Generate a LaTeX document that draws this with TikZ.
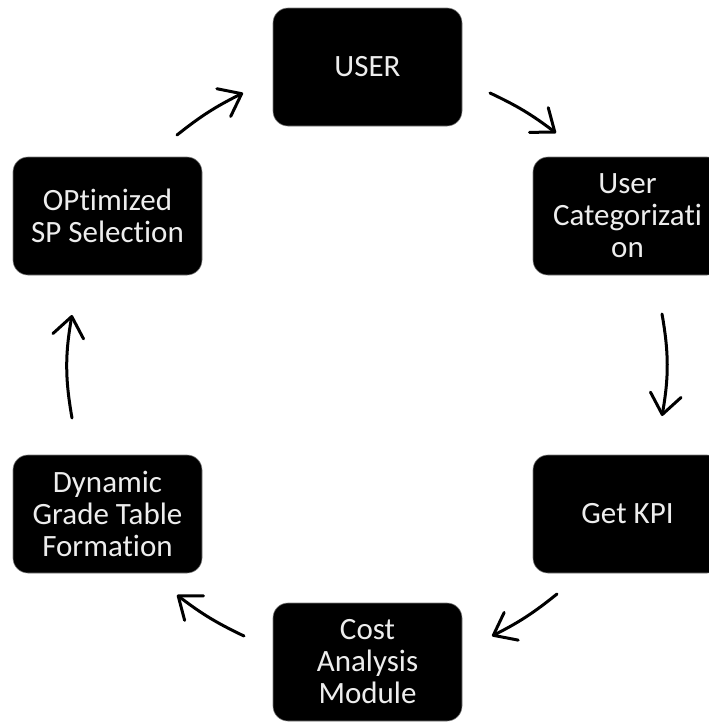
\documentclass[tikz,border=0pt]{standalone}
\usepackage{fontspec}
\setmainfont{Carlito}[Ligatures=NoCommon]
\usetikzlibrary{arrows.meta, positioning}
\definecolor{cycleText}{HTML}{EDEDED}
\definecolor{cycleEdge}{HTML}{7A7A7A}

\begin{document}
\begin{tikzpicture}[
  box/.style={draw=cycleEdge, line width=0.6pt, fill=black, rounded corners=15pt,
    minimum height=118pt, minimum width=189pt, outer sep=0pt, inner sep=2pt,
    align=center, text=cycleText, font=\fontsize{31}{32}\selectfont},
  arr/.style={-{Straight Barb[length=20pt, width=31pt, line width=3pt, round]},
    line width=3pt, line cap=round, black}
]
\useasboundingbox (0pt,0pt) rectangle (709pt,-723pt);
\node[box] (user) at (367.5pt,-67pt) {USER};
\node[box, below right=31pt and 71pt of user] (ucat) {User\\Categorizati\\on};
\node[box, below=180pt of ucat] (kpi) {Get KPI};
\node[box, below left=30pt and 71pt of kpi] (cost) {Cost\\Analysis\\Module};
\node[box, above left=30pt and 71pt of cost] (dyn) {Dynamic\\Grade Table\\Formation};
\node[box, above=180pt of dyn] (opt) {OPtimized\\SP Selection};
\draw[arr] ([xshift=-25pt,yshift=22pt]opt.north east) to[bend left=6] ([xshift=-30pt,yshift=-26pt]user.west);
\draw[arr] ([xshift=28pt,yshift=-26pt]user.east) to[bend left=6] ([xshift=23pt,yshift=24pt]ucat.north west);
\draw[arr] ([xshift=34.5pt,yshift=-39pt]ucat.south) to[bend left=10] ([xshift=34.5pt,yshift=39pt]kpi.north);
\draw[arr] ([xshift=24pt,yshift=-21pt]kpi.south west) to[bend left=6] ([xshift=30pt,yshift=26pt]cost.east);
\draw[arr] ([xshift=-29pt,yshift=26pt]cost.west) to[bend left=6] ([xshift=-25pt,yshift=-22pt]dyn.south east);
\draw[arr] ([xshift=-35.5pt,yshift=37pt]dyn.north) to[bend left=10] ([xshift=-35.5pt,yshift=-40pt]opt.south);
\end{tikzpicture}
\end{document}
